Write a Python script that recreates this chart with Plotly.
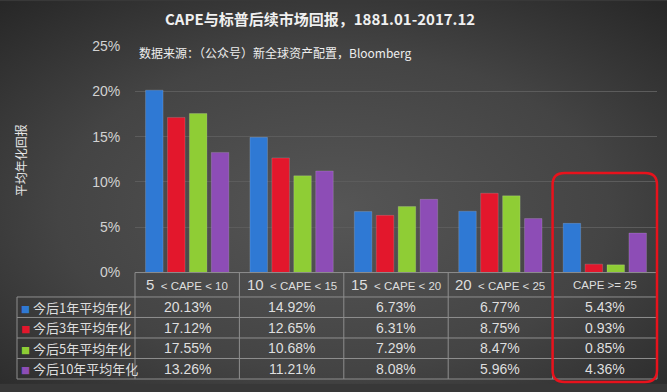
import base64
import plotly.graph_objects as go

# ---------------- data ----------------
categories = ["5 < CAPE < 10", "10 < CAPE < 15", "15 < CAPE < 20", "20 < CAPE < 25", "CAPE >= 25"]
cat_lead = ["5", "10", "15", "20", ""]
cat_rest = ["< CAPE < 10", "< CAPE < 15", "< CAPE < 20", "< CAPE < 25", "CAPE >= 25"]
series_names = ["今后1年平均年化", "今后3年平均年化", "今后5年平均年化", "今后10年平均年化"]
ret_1y = [20.13, 14.92, 6.73, 6.77, 5.43]
ret_3y = [17.12, 12.65, 6.31, 8.75, 0.93]
ret_5y = [17.55, 10.68, 7.29, 8.47, 0.85]
ret_10y = [13.26, 11.21, 8.08, 5.96, 4.36]
series_values = [ret_1y, ret_3y, ret_5y, ret_10y]
colors = ["#2f79d4", "#e3172c", "#8fcd35", "#8d4db6"]
tick_vals = [0, 5, 10, 15, 20, 25]
tick_text = ["0%", "5%", "10%", "15%", "20%", "25%"]

# ---------------- geometry ----------------
W, H = 667, 392
ML, MR, MT, MB = 17, 10, 46, 5
PW, PH = W - ML - MR, H - MT - MB
x_dom0 = (135 - ML) / PW
n = len(categories)
cat_w = (1 - x_dom0) / n

def py(ypix):
    return (H - MB - ypix) / PH

def px(xpix):
    return (xpix - ML) / PW

FONT = "Liberation Sans, Noto Sans CJK SC, sans-serif"
CJK = "Noto Sans CJK SC, sans-serif"
LINE = "#8e8e8e"
TXT = "#dedede"

fig = go.Figure()
for name, vals, col in zip(series_names, series_values, colors):
    fig.add_trace(go.Bar(
        x=categories, y=vals, name=name,
        marker=dict(color=col, line=dict(color="rgba(255,255,255,0.25)", width=0.6)),
        showlegend=False,
    ))

# background radial gradient
svg = f"""<svg xmlns='http://www.w3.org/2000/svg' width='{W}' height='{H}'>
<defs><radialGradient id='g' cx='0.5' cy='0.55' r='0.75'>
<stop offset='0' stop-color='#565656'/><stop offset='0.55' stop-color='#444444'/>
<stop offset='1' stop-color='#262626'/></radialGradient></defs>
<rect width='{W}' height='{H}' fill='url(#g)'/></svg>"""
bg_src = "data:image/svg+xml;base64," + base64.b64encode(svg.encode()).decode()

shapes = []
annotations = []

# ---- data table drawn below the plot ----
header_top, header_bot = 278, 303
row_h = 21
row_edges = [header_bot + row_h * i for i in range(len(series_names) + 1)]
col_edges = [x_dom0 + cat_w * i for i in range(n + 1)]
leg_left = px(17)

shapes.append(dict(type="line", xref="paper", yref="paper", x0=x_dom0, x1=1,
                   y0=py(header_top), y1=py(header_top), line=dict(color=LINE, width=1)))
for yp in row_edges:
    shapes.append(dict(type="line", xref="paper", yref="paper", x0=leg_left, x1=1,
                       y0=py(yp), y1=py(yp), line=dict(color=LINE, width=1)))
shapes.append(dict(type="line", xref="paper", yref="paper", x0=leg_left, x1=leg_left,
                   y0=py(row_edges[0]), y1=py(row_edges[-1]), line=dict(color=LINE, width=1)))
for xe in col_edges:
    shapes.append(dict(type="line", xref="paper", yref="paper", x0=xe, x1=xe,
                       y0=py(header_top), y1=py(row_edges[-1]), line=dict(color=LINE, width=1)))

for i, (lead, rest) in enumerate(zip(cat_lead, cat_rest)):
    r = rest.replace("<", "&lt;").replace(">", "&gt;")
    txt = f"<span style='font-size:15px'>{lead}</span>  {r}" if lead else r
    annotations.append(dict(text=txt, xref="x", yref="paper", x=categories[i],
                            y=py((header_top + header_bot) / 2), xanchor="center", yanchor="middle",
                            showarrow=False, font=dict(family=FONT, size=11.5, color=TXT)))

for j, (name, vals, col) in enumerate(zip(series_names, series_values, colors)):
    yc = py((row_edges[j] + row_edges[j + 1]) / 2)
    annotations.append(dict(text=f"<span style='color:{col};font-size:9px'>■</span> {name}",
                            xref="paper", yref="paper", x=px(19), y=yc,
                            xanchor="left", yanchor="middle", showarrow=False,
                            font=dict(family=CJK, size=13, color=TXT)))
    for i, v in enumerate(vals):
        annotations.append(dict(text=f"{v:.2f}%", xref="x", yref="paper", x=categories[i], y=yc,
                                xanchor="center", yanchor="middle", showarrow=False,
                                font=dict(family=FONT, size=14, color=TXT)))

# red rounded highlight box around the last category
bx0, bx1 = col_edges[-2], col_edges[-1]
by1, by0 = py(176), py(390)
rx, ry = 12 / PW, 12 / PH
path = (f"M {bx0+rx},{by1} L {bx1-rx},{by1} Q {bx1},{by1} {bx1},{by1-ry} "
        f"L {bx1},{by0+ry} Q {bx1},{by0} {bx1-rx},{by0} L {bx0+rx},{by0} "
        f"Q {bx0},{by0} {bx0},{by0+ry} L {bx0},{by1-ry} Q {bx0},{by1} {bx0+rx},{by1} Z")
shapes.append(dict(type="path", path=path, xref="paper", yref="paper",
                   line=dict(color="#e8121c", width=2.5), fillcolor="rgba(0,0,0,0)"))

annotations += [
    dict(text="<b>CAPE与标普后续市场回报，1881.01-2017.12</b>", xref="paper", yref="paper",
         x=px(320), y=py(18), xanchor="center", yanchor="middle",
         showarrow=False, font=dict(family=CJK, size=15, color="#f0f0f0")),
    dict(text="数据来源：（公众号）新全球资产配置，Bloomberg", xref="paper", yref="paper",
         x=px(137), y=py(53), xanchor="left", yanchor="middle",
         showarrow=False, font=dict(family=CJK, size=12, color="#eeeeee")),
    dict(text="平均年化回报", xref="paper", yref="paper", textangle=-90,
         x=px(20), y=py(163), xanchor="center", yanchor="middle",
         showarrow=False, font=dict(family=CJK, size=12, color="#e6e6e6")),
]

fig.update_layout(
    width=W, height=H,
    margin=dict(l=ML, r=MR, t=MT, b=MB),
    paper_bgcolor="#383838", plot_bgcolor="rgba(0,0,0,0)",
    barmode="group", bargap=0.16, bargroupgap=0.2,
    images=[dict(source=bg_src, xref="paper", yref="paper",
                 x=-ML / PW, y=1 + MT / PH, sizex=W / PW, sizey=H / PH,
                 sizing="stretch", layer="below", xanchor="left", yanchor="top")],
    xaxis=dict(domain=[x_dom0, 1], range=[-0.5, n - 0.5], showticklabels=False,
               showgrid=False, zeroline=False, showline=False, fixedrange=True),
    yaxis=dict(domain=[py(278), 1], range=[0, 25], tickmode="array",
               tickvals=tick_vals, ticktext=tick_text,
               showgrid=True, gridcolor="#5c5c5c", gridwidth=1, zeroline=False,
               ticks="outside", ticklen=11, tickcolor="rgba(0,0,0,0)",
               tickfont=dict(family=FONT, size=14, color="#d2d2d2"), fixedrange=True),
    shapes=shapes,
    annotations=annotations,
)

fig.write_html(
    "out.html",
    config={"displayModeBar": False},
    post_script="document.body.style.margin='0';document.body.style.background='#2a2a2a';",
)
